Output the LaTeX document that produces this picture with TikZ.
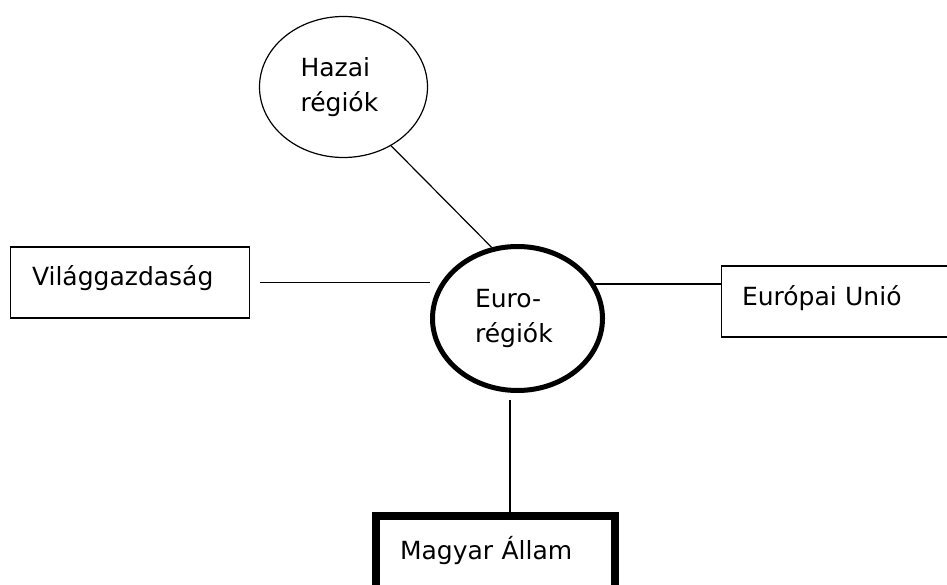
\documentclass[tikz,border=0pt]{standalone}
\usepackage{fontspec}
\setmainfont{DejaVu Sans}
\usetikzlibrary{shapes.geometric}

\tikzset{
  region/.style={ellipse, draw, align=left, inner sep=0pt,
    font=\fontsize{25}{35}\selectfont},
  actor/.style={rectangle, draw, line width=1.5pt, align=left,
    minimum height=71pt, font=\fontsize{25}{35}\selectfont},
  link/.style={line width=1.2pt}
}

\begin{document}
\begin{tikzpicture}[x=1pt, y=-1pt]
  \useasboundingbox (0,0) rectangle (947,585);
  \clip (0,0) rectangle (947,585);

  % Regions
  \node[region, line width=1.2pt, minimum width=168pt, minimum height=141pt,
    text width=86pt] (hazai) at (343.5,87) {Hazai\\régiók};
  \node[region, line width=5pt, minimum width=170pt, minimum height=144pt,
    text width=85pt] (euro) at (517.5,318.5) {Euro-\\régiók};

  % Actors
  \node[actor, minimum width=239pt, inner xsep=21.5pt, text width=196pt,
    text height=20pt, text depth=15pt] (vilag) at (130,282.5) {Világgazdaság};
  \node[actor, minimum width=278pt, inner xsep=20.5pt, text width=237pt,
    text height=20pt, text depth=13pt] (eu) at (860.5,301.5) {Európai Unió};
  \node[actor, line width=8pt, minimum width=239pt, minimum height=90pt,
    inner xsep=24pt, text width=191pt, text height=16pt, text depth=20pt]
    (magyar) at (495.5,561) {Magyar Állam};

  % Links
  \draw[link] (hazai.-51) -- (euro.110);
  \draw[link, shorten <=10pt] (vilag.east) -- (vilag.east -| euro.west);
  \draw[link] (euro.24) -- (euro.24 -| eu.west);
  \draw[link, shorten <=7pt] ([xshift=-7.5pt]euro.south)
    -- ([xshift=-7.5pt]euro.south |- magyar.north);
\end{tikzpicture}
\end{document}
